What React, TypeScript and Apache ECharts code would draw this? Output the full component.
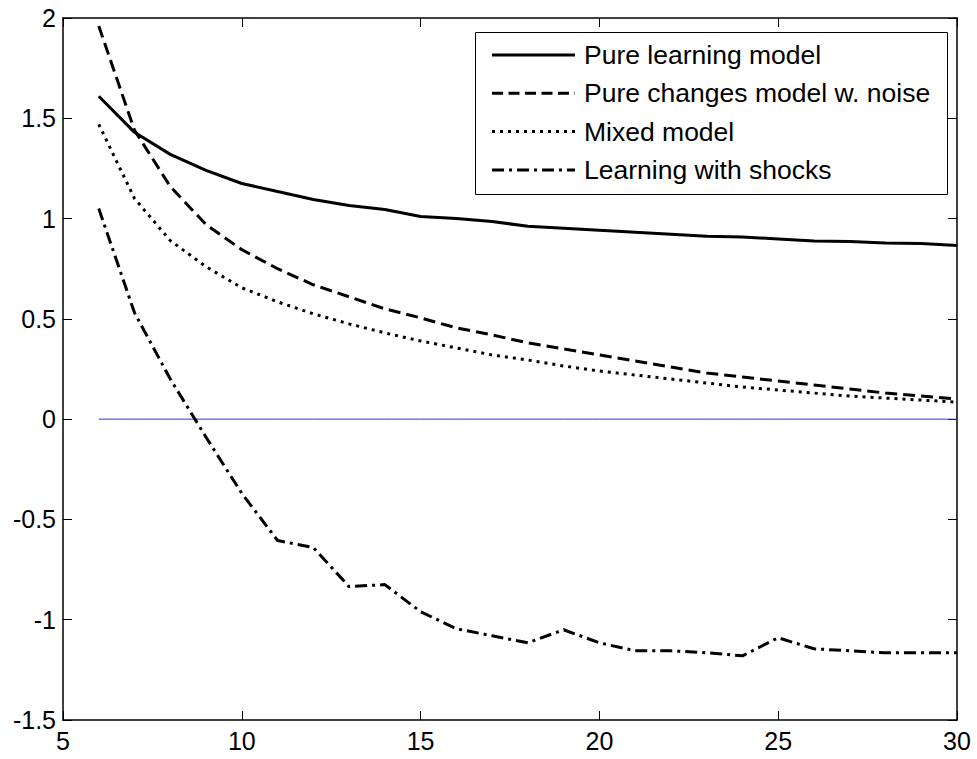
import React, { useEffect, useRef } from "react";
import * as echarts from "echarts";

const xValues = [6, 7, 8, 9, 10, 11, 12, 13, 14, 15, 16, 17, 18, 19, 20, 21, 22, 23, 24, 25, 26, 27, 28, 29, 30];
const pureLearning = [1.61, 1.43, 1.32, 1.24, 1.175, 1.135, 1.095, 1.065, 1.045, 1.01, 1.0, 0.985, 0.962, 0.952, 0.942, 0.932, 0.922, 0.912, 0.908, 0.898, 0.888, 0.886, 0.878, 0.876, 0.866];
const pureChanges = [1.96, 1.44, 1.16, 0.97, 0.845, 0.75, 0.67, 0.61, 0.55, 0.505, 0.455, 0.42, 0.38, 0.35, 0.32, 0.29, 0.26, 0.23, 0.21, 0.19, 0.17, 0.15, 0.13, 0.115, 0.1];
const mixedModel = [1.47, 1.1, 0.89, 0.76, 0.655, 0.585, 0.525, 0.475, 0.43, 0.39, 0.355, 0.32, 0.295, 0.265, 0.24, 0.22, 0.2, 0.18, 0.16, 0.145, 0.13, 0.115, 0.105, 0.095, 0.085];
const learningShocks = [1.05, 0.53, 0.2, -0.09, -0.37, -0.605, -0.64, -0.835, -0.825, -0.96, -1.045, -1.08, -1.115, -1.05, -1.115, -1.155, -1.155, -1.165, -1.18, -1.09, -1.145, -1.155, -1.165, -1.165, -1.165];
const zeroLine = xValues.map(() => 0);
const seriesNames = ["Pure learning model", "Pure changes model w. noise", "Mixed model", "Learning with shocks"];

const FONT = "'Liberation Sans', Arial, Helvetica, sans-serif";
const dashes: (number[] | "solid")[] = ["solid", [12, 6], [3, 5], [12, 5, 3, 5]];
const legendDashes: (number[] | null)[] = [null, [11, 5.5], [3, 5], [12, 5, 3, 5]];

export default function App() {
  const ref = useRef<HTMLDivElement>(null);
  useEffect(() => {
    document.body.style.margin = "0";
    const chart = echarts.init(ref.current!, null, { renderer: "svg" });
    const pair = (ys: number[]) => xValues.map((x, i) => [x, ys[i]]);
    const dataSets = [pureLearning, pureChanges, mixedModel, learningShocks];

    const axisCommon = {
      axisLine: { show: true, onZero: false, lineStyle: { color: "#000", width: 1.5 } },
      axisTick: { show: true, inside: true, length: 9, lineStyle: { color: "#000", width: 1 } },
      splitLine: { show: false },
    };

    const legendRows = seriesNames.map((name, i) => {
      const y = 55 + i * 38.3;
      return [
        {
          type: "line",
          z: 101,
          shape: { x1: 492, y1: y, x2: 575, y2: y },
          style: { stroke: "#000", lineWidth: 3, lineDash: legendDashes[i], lineCap: "butt" },
        },
        {
          type: "text",
          z: 101,
          x: 584,
          y: y,
          style: { text: name, fill: "#000", font: `26.5px ${FONT}`, textVerticalAlign: "middle", textAlign: "left" },
        },
      ];
    }).flat();

    chart.setOption({
      animation: false,
      backgroundColor: "#fff",
      grid: { left: 63, right: 20, top: 18, bottom: 39, containLabel: false },
      xAxis: [
        {
          type: "value", min: 5, max: 30, interval: 5, position: "bottom",
          ...axisCommon,
          axisLabel: { show: true, color: "#000", fontSize: 25, fontFamily: FONT, margin: 8 },
        },
        {
          type: "value", min: 5, max: 30, interval: 5, position: "top",
          ...axisCommon,
          axisLabel: { show: false },
        },
      ],
      yAxis: [
        {
          type: "value", min: -1.5, max: 2, interval: 0.5, position: "left",
          ...axisCommon,
          axisLabel: { show: true, color: "#000", fontSize: 25, fontFamily: FONT, margin: 7 },
        },
        {
          type: "value", min: -1.5, max: 2, interval: 0.5, position: "right",
          ...axisCommon,
          axisLabel: { show: false },
        },
      ],
      series: [
        {
          type: "line",
          name: "zero",
          data: pair(zeroLine),
          showSymbol: false,
          lineStyle: { color: "#3030f0", width: 1 },
          z: 1,
        },
        ...dataSets.map((ys, i) => ({
          type: "line",
          name: seriesNames[i],
          data: pair(ys),
          showSymbol: false,
          lineStyle: { color: "#000", width: 3, type: dashes[i], cap: "butt", join: "round" },
          z: 2,
        })),
      ],
      graphic: [
        {
          type: "rect",
          z: 100,
          shape: { x: 475.5, y: 32.5, width: 472, height: 162 },
          style: { fill: "#fff", stroke: "#000", lineWidth: 1 },
        },
        ...legendRows,
      ],
    });
    return () => chart.dispose();
  }, []);
  return <div ref={ref} style={{ position: "absolute", left: 0, top: 0, width: 977, height: 759 }} />;
}
